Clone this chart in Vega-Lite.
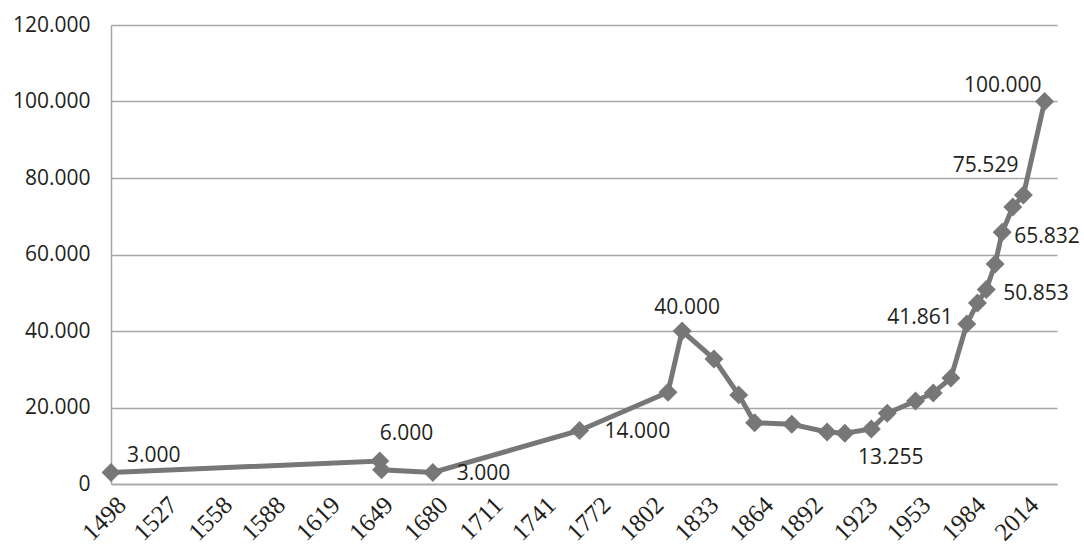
{
  "$schema": "https://vega.github.io/schema/vega-lite/v6.json",
  "width": 946,
  "height": 459,
  "autosize": "none",
  "padding": {"left": 111, "top": 25, "right": 27, "bottom": 70},
  "background": "white",
  "config": {
    "view": {"stroke": null},
    "font": "Open Sans",
    "locale": {"number": {"decimal": ",", "thousands": ".", "grouping": [3], "currency": ["", " €"]}},
    "text": {"font": "Open Sans", "fontSize": 21, "color": "#231f20", "baseline": "middle"}
  },
  "data": {"values": [
    {"year": 1498, "value": 3000},
    {"year": 1650, "value": 6000},
    {"year": 1651, "value": 3700},
    {"year": 1680, "value": 3000},
    {"year": 1763, "value": 14000},
    {"year": 1813, "value": 24000},
    {"year": 1821, "value": 40000},
    {"year": 1839, "value": 32700},
    {"year": 1853, "value": 23300},
    {"year": 1862, "value": 16000},
    {"year": 1883, "value": 15600},
    {"year": 1903, "value": 13600},
    {"year": 1913, "value": 13255},
    {"year": 1928, "value": 14400},
    {"year": 1937, "value": 18500},
    {"year": 1953, "value": 21700},
    {"year": 1963, "value": 23800},
    {"year": 1973, "value": 27700},
    {"year": 1982, "value": 41861},
    {"year": 1988, "value": 47300},
    {"year": 1993, "value": 50853},
    {"year": 1998, "value": 57500},
    {"year": 2002, "value": 65832},
    {"year": 2008, "value": 72400},
    {"year": 2014, "value": 75529},
    {"year": 2026, "value": 100000}
  ]},
  "encoding": {
    "x": {
      "field": "year", "type": "quantitative",
      "scale": {"domain": [1498, 2033], "nice": false, "zero": false},
      "axis": {
        "title": null, "format": "d",
        "values": [1498, 1527, 1558, 1588, 1619, 1649, 1680, 1711, 1741, 1772, 1802, 1833, 1864, 1892, 1923, 1953, 1984, 2014],
        "labelAngle": -45, "labelFont": "Liberation Serif", "labelFontSize": 25, "labelColor": "#231f20",
        "labelPadding": 8, "labelOffset": 2, "ticks": false, "grid": false,
        "domainColor": "#a6a6a6", "domainWidth": 1.5, "labelOverlap": false, "labelBound": false, "labelFlush": false
      }
    },
    "y": {
      "field": "value", "type": "quantitative",
      "scale": {"domain": [0, 120000], "nice": false},
      "axis": {
        "title": null, "format": ",d",
        "values": [0, 20000, 40000, 60000, 80000, 100000, 120000],
        "labelFont": "Open Sans", "labelFontSize": 21, "labelColor": "#231f20",
        "labelPadding": 21, "ticks": false, "grid": true, "gridColor": "#a6a6a6", "gridWidth": 1.5,
        "domainColor": "#a6a6a6", "domainWidth": 1.5, "labelOverlap": false
      }
    }
  },
  "layer": [
    {"mark": {"type": "line", "color": "#777777", "strokeWidth": 5, "strokeJoin": "miter"}},
    {"mark": {"type": "point", "shape": "diamond", "filled": true, "size": 360, "color": "#777777", "opacity": 1}},
    {"transform": [{"filter": "datum.year == 1498"}], "mark": {"type": "text", "align": "left", "dx": 16, "dy": -17}, "encoding": {"text": {"field": "value", "type": "quantitative", "format": ",d"}}},
    {"transform": [{"filter": "datum.year == 1650"}], "mark": {"type": "text", "align": "left", "dx": 0, "dy": -27}, "encoding": {"text": {"field": "value", "type": "quantitative", "format": ",d"}}},
    {"transform": [{"filter": "datum.year == 1680"}], "mark": {"type": "text", "align": "left", "dx": 24, "dy": 1}, "encoding": {"text": {"field": "value", "type": "quantitative", "format": ",d"}}},
    {"transform": [{"filter": "datum.year == 1763"}], "mark": {"type": "text", "align": "left", "dx": 25, "dy": 2}, "encoding": {"text": {"field": "value", "type": "quantitative", "format": ",d"}}},
    {"transform": [{"filter": "datum.year == 1821"}], "mark": {"type": "text", "align": "center", "dx": 5, "dy": -23}, "encoding": {"text": {"field": "value", "type": "quantitative", "format": ",d"}}},
    {"transform": [{"filter": "datum.year == 1913"}], "mark": {"type": "text", "align": "center", "dx": 46, "dy": 25}, "encoding": {"text": {"field": "value", "type": "quantitative", "format": ",d"}}},
    {"transform": [{"filter": "datum.year == 1982"}], "mark": {"type": "text", "align": "right", "dx": -14, "dy": -6}, "encoding": {"text": {"field": "value", "type": "quantitative", "format": ",d"}}},
    {"transform": [{"filter": "datum.year == 1993"}], "mark": {"type": "text", "align": "left", "dx": 17, "dy": 5}, "encoding": {"text": {"field": "value", "type": "quantitative", "format": ",d"}}},
    {"transform": [{"filter": "datum.year == 2002"}], "mark": {"type": "text", "align": "left", "dx": 12, "dy": 5}, "encoding": {"text": {"field": "value", "type": "quantitative", "format": ",d"}}},
    {"transform": [{"filter": "datum.year == 2014"}], "mark": {"type": "text", "align": "right", "dx": -5, "dy": -29}, "encoding": {"text": {"field": "value", "type": "quantitative", "format": ",d"}}},
    {"transform": [{"filter": "datum.year == 2026"}], "mark": {"type": "text", "align": "right", "dx": -3, "dy": -16}, "encoding": {"text": {"field": "value", "type": "quantitative", "format": ",d"}}}
  ]
}
